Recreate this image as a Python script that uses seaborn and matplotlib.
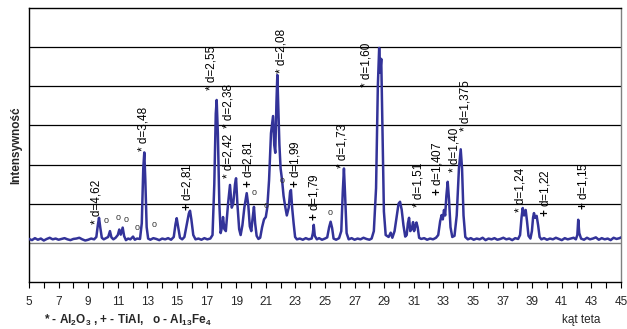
import matplotlib
matplotlib.use("Agg")
import matplotlib.pyplot as plt
import pandas as pd
import seaborn as sns

# diffractogram profile (kat teta, intensity)
two_theta = [
    5.0, 5.2, 5.4, 5.6, 5.8, 6.0, 6.2, 6.4, 6.6, 6.8, 7.0, 7.2, 7.4, 7.6, 7.8, 8.0,
    8.2, 8.4, 8.6, 8.8, 9.0, 9.2, 9.4, 9.55, 9.65, 9.73, 9.82, 9.92, 10.05, 10.2,
    10.35, 10.47, 10.57, 10.7, 10.85, 11.0, 11.1, 11.2, 11.33, 11.43, 11.55, 11.7,
    11.85, 12.03, 12.15, 12.3, 12.5, 12.62, 12.72, 12.79, 12.86, 12.95, 13.05, 13.2,
    13.4, 13.6, 13.8, 14.0, 14.2, 14.4, 14.6, 14.78, 14.9, 14.98, 15.08, 15.2, 15.35,
    15.5, 15.65, 15.8, 15.88, 15.97, 16.1, 16.25, 16.45, 16.65, 16.85, 17.05, 17.25,
    17.4, 17.52, 17.62, 17.68, 17.76, 17.86, 17.95, 18.04, 18.11, 18.2, 18.3, 18.45,
    18.58, 18.7, 18.8, 18.92, 18.99, 19.08, 19.2, 19.3, 19.42, 19.55, 19.71, 19.82,
    19.92, 20.02, 20.1, 20.2, 20.28, 20.38, 20.5, 20.62, 20.75, 20.88, 21.0, 21.1,
    21.22, 21.35, 21.49, 21.57, 21.64, 21.72, 21.78, 21.85, 21.92, 22.0, 22.1, 22.2,
    22.3, 22.42, 22.55, 22.64, 22.7, 22.78, 22.88, 22.98, 23.1, 23.3, 23.5, 23.7,
    23.9, 24.1, 24.18, 24.24, 24.31, 24.45, 24.6, 24.8, 25.0, 25.15, 25.28, 25.38,
    25.48, 25.58, 25.75, 25.95, 26.1, 26.2, 26.28, 26.36, 26.46, 26.6, 26.8, 27.0,
    27.2, 27.4, 27.6, 27.8, 28.0, 28.15, 28.3, 28.45, 28.57, 28.66, 28.73, 28.8,
    28.88, 28.98, 29.1, 29.3, 29.44, 29.55, 29.7, 29.85, 29.97, 30.07, 30.18, 30.3,
    30.42, 30.52, 30.6, 30.68, 30.76, 30.86, 30.95, 31.02, 31.1, 31.18, 31.26, 31.36,
    31.5, 31.7, 31.9, 32.1, 32.3, 32.5, 32.65, 32.78, 32.88, 32.96, 33.04, 33.12,
    33.2, 33.29, 33.38, 33.48, 33.6, 33.75, 33.9, 34.05, 34.17, 34.26, 34.36, 34.48,
    34.65, 34.85, 35.05, 35.25, 35.45, 35.65, 35.85, 36.05, 36.25, 36.45, 36.65,
    36.85, 37.05, 37.25, 37.45, 37.65, 37.85, 38.05, 38.18, 38.28, 38.36, 38.45,
    38.56, 38.65, 38.75, 38.88, 38.98, 39.06, 39.12, 39.2, 39.3, 39.4, 39.5, 39.62,
    39.8, 40.0, 40.2, 40.4, 40.6, 40.8, 41.0, 41.2, 41.4, 41.6, 41.8, 41.95, 42.05,
    42.11, 42.18, 42.3, 42.5, 42.7, 42.9, 43.1, 43.3, 43.5, 43.7, 43.9, 44.1, 44.3,
    44.5, 44.7, 44.9, 45.0,
]
intensity = [
    100, 70, 120, 80, 110, 60, 100, 130, 90, 110, 80, 100, 120, 90, 70, 100,
    110, 130, 90, 60, 80, 110, 90, 150, 450, 640, 380, 130, 90, 120,
    150, 300, 140, 90, 130, 200, 340, 210, 390, 170, 70, 110,
    90, 160, 80, 110, 100, 500, 1900, 2310, 1600, 400, 110, 80,
    120, 100, 70, 110, 90, 120, 80, 150, 480, 630, 400, 130, 90,
    150, 450, 750, 820, 600, 200, 90, 110, 80, 120, 90, 110,
    200, 1500, 3300, 3650, 2800, 1000, 250, 400, 660, 350, 300, 1000,
    1480, 900, 1000, 1500, 1650, 1000, 350, 200, 450, 900, 1270, 950,
    420, 300, 600, 920, 500, 180, 100, 130, 400, 600, 660, 900,
    1600, 2800, 3240, 2500, 2300, 3600, 4290, 3400, 2500, 1900, 1600, 1200,
    950, 700, 900, 1300, 1350, 900, 500, 150, 90, 110, 80, 120,
    90, 110, 250, 460, 180, 90, 120, 80, 110, 140, 400, 540,
    380, 110, 80, 120, 300, 1300, 1900, 1200, 250, 90, 120, 80,
    110, 90, 130, 100, 80, 110, 300, 1400, 4000, 4980, 4350, 4700,
    3000, 800, 200, 150, 260, 130, 300, 700, 1000, 1050, 850, 450,
    160, 200, 500, 640, 300, 350, 530, 300, 420, 520, 400, 130,
    100, 120, 80, 110, 90, 130, 200, 550, 710, 600, 840, 700,
    1200, 1560, 1100, 400, 150, 180, 700, 1900, 2390, 1900, 700, 150,
    90, 120, 80, 110, 90, 130, 70, 110, 90, 120, 80,
    100, 130, 90, 110, 70, 120, 100, 200, 650, 890, 700,
    840, 550, 180, 110, 300, 650, 760, 640, 690, 450, 150, 90,
    120, 80, 110, 90, 130, 100, 70, 120, 90, 110, 130, 90, 200,
    590, 250, 110, 80, 130, 90, 110, 140, 80, 120, 90, 110, 70,
    130, 100, 120, 140,
]

# peak labels: position, bottom of the rotated text, phase mark, d value
label_theta = [9.53, 12.77, 15.66, 17.34, 18.47, 18.47, 19.78, 22.07, 22.97, 24.28,
               26.17, 27.82, 31.30, 32.55, 33.74, 34.51, 38.18, 39.86, 42.45]
label_base = [480, 2350, 810, 3900, 1660, 2930, 1400, 4340, 1400, 560,
              1910, 3980, 915, 1200, 1810, 2860, 790, 660, 840]
label_mark = ["*", "*", "+", "*", "*", "*", "+", "*", "+", "+",
              "*", "*", "*", "+", "*", "*", "*", "+", "+"]
label_d = ["4,62", "3,48", "2,81", "2,55", "2,42", "2,38", "2,81", "2,08", "1,99",
           "1,79", "1,73", "1,60", "1,51", "1,407", "1,40", "1,375", "1,24",
           "1,22", "1,15"]

# Al13Fe4 markers
circle_theta = [10.20, 11.03, 11.53, 12.28, 13.47, 20.22, 20.99, 22.11, 25.34]
circle_value = [560, 650, 585, 400, 480, 1290, 965, 1605, 770]

x_ticks = list(range(5, 46))
x_tick_labels = [str(t) if t % 2 == 1 else "" for t in x_ticks]

sns.set_theme(style="white")
plt.rcParams["font.family"] = ["Liberation Sans", "DejaVu Sans"]
plt.rcParams["mathtext.fontset"] = "custom"
plt.rcParams["mathtext.rm"] = "Liberation Sans"
plt.rcParams["mathtext.bf"] = "Liberation Sans:bold"
plt.rcParams["mathtext.default"] = "regular"

df = pd.DataFrame({"theta": two_theta, "intensity": intensity})

fig = plt.figure(figsize=(6.27, 3.29), dpi=100)
ax = fig.add_axes([29 / 627, 47 / 329, 592 / 627, 274 / 329])

for level in [1000, 2000, 3000, 4000, 5000]:
    ax.axhline(level, color="black", linewidth=0.9, zorder=1)
ax.axhline(0, color="#808080", linewidth=1.0, zorder=1)

sns.lineplot(data=df, x="theta", y="intensity", estimator=None, sort=False,
             color="#333399", linewidth=1.8, ax=ax, zorder=3)

for t, b, m, d in zip(label_theta, label_base, label_mark, label_d):
    mark = r"$\mathbf{+}$" if m == "+" else "*"
    ax.text(t, b, f"{mark} d={d}", rotation=90, ha="center", va="bottom",
            fontsize=8.5, color="black", zorder=4)

for t, v in zip(circle_theta, circle_value):
    ax.text(t, v, "o", ha="center", va="center", fontsize=6.5, color="#333333", zorder=4)

ax.set_xlim(5, 45)
ax.set_ylim(-1000, 6000)
ax.set_xticks(x_ticks)
ax.set_xticklabels(x_tick_labels, fontsize=8.5)
ax.set_yticks([])
ax.set_xlabel("")
ax.set_ylabel("")
ax.tick_params(axis="x", direction="out", length=4, width=0.8, color="black",
               pad=6, bottom=True)

for side in ["left", "bottom", "top"]:
    ax.spines[side].set_color("black")
    ax.spines[side].set_linewidth(1.0)
ax.spines["right"].set_color("#808080")
ax.spines["right"].set_linewidth(1.0)

ax.text(-0.022, 0.5, "Intensywność", transform=ax.transAxes, rotation=90,
        ha="center", va="center", fontsize=8.5, fontweight="bold")

fig.text(581 / 627, 1 - 320 / 329, "kąt teta", ha="center", va="center", fontsize=8.5)
fig.text(44 / 627, 1 - 320 / 329,
         r"* - Al$_2$O$_3$ , + - TiAl,   o - Al$_{13}$Fe$_4$",
         ha="left", va="center", fontsize=8.5, fontweight="bold")

fig.savefig("out.png", dpi=100)
